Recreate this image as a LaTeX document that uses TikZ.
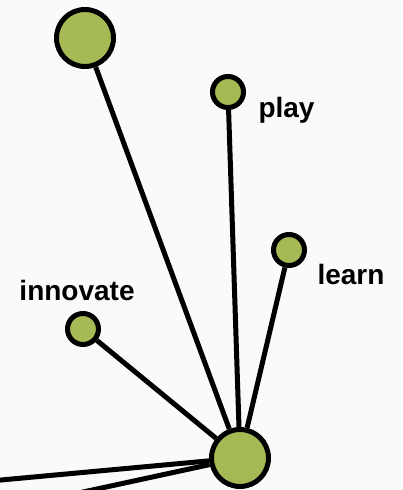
\documentclass[tikz,border=0pt]{standalone}
\usepackage{fontspec}
\setmainfont{Liberation Sans}
\begin{document}
\begin{tikzpicture}[x=1pt,y=-1pt,line width=5pt]
\definecolor{olivegreen}{RGB}{165,185,85}
\definecolor{paper}{RGB}{249,250,252}
\tikzset{
  dot/.style={circle,draw=black,fill=olivegreen,inner sep=0pt,minimum size=31pt},
  bigdot/.style={dot,minimum size=57pt},
  word/.style={anchor=base west,inner sep=0pt,font=\bfseries\fontsize{28}{30}\selectfont}
}

% Hintergrund
\fill[paper] (0,0) rectangle (402,490);
\useasboundingbox (0,0) rectangle (402,490);

% Knoten
\node[bigdot] (top) at (85,38) {};
\node[dot] (play) at (228,92) {};
\node[dot] (learn) at (289,250) {};
\node[dot] (innovate) at (83,329) {};
\node[bigdot] (hub) at (240,458) {};

\coordinate (left1) at (-10,481);
\coordinate (left2) at (60,497);

% Kanten
\draw (hub) -- (top);
\draw (hub) -- (play);
\draw (hub) -- (learn);
\draw (hub) -- (innovate);
\draw (hub) -- (left1);
\draw (hub) -- (left2);

% Beschriftungen
\node[word] (playtext) at (256,117) {play};
\node[word] (learntext) at (315,284) {learn};
\node[word] (innovatetext) at (17,300) {innovate};

\end{tikzpicture}
\end{document}
